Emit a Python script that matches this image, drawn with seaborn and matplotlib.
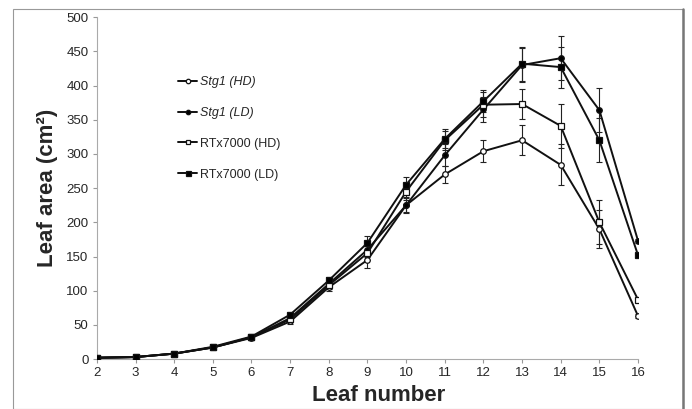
import numpy as np
import pandas as pd
import seaborn as sns
import matplotlib.pyplot as plt
from matplotlib.patches import Rectangle
from matplotlib.lines import Line2D

leaf = [2, 3, 4, 5, 6, 7, 8, 9, 10, 11, 12, 13, 14, 15, 16]

stg1_hd = [2, 3, 8, 17, 31, 55, 105, 145, 225, 270, 304, 320, 284, 190, 63]
stg1_hd_err = [1, 1, 1, 2, 3, 4, 6, 12, 12, 12, 16, 22, 30, 28, 3]
stg1_ld = [2, 3, 8, 17, 32, 60, 110, 160, 225, 298, 365, 430, 440, 364, 173]
stg1_ld_err = [1, 1, 1, 2, 3, 4, 6, 10, 10, 16, 18, 25, 32, 32, 3]
rtx_hd = [2, 3, 8, 17, 32, 58, 108, 155, 245, 320, 372, 373, 341, 200, 87]
rtx_hd_err = [1, 1, 1, 2, 3, 4, 6, 10, 12, 14, 18, 22, 32, 32, 3]
rtx_ld = [2, 3, 8, 18, 33, 65, 115, 170, 255, 322, 377, 432, 427, 320, 152]
rtx_ld_err = [1, 1, 1, 2, 3, 4, 5, 10, 12, 14, 16, 25, 30, 32, 3]

labels = ['Stg1 (HD)', 'Stg1 (LD)', 'RTx7000 (HD)', 'RTx7000 (LD)']

sns.set_style('white')
plt.rcParams['font.family'] = ['Liberation Sans', 'DejaVu Sans']

fig = plt.figure(figsize=(6.92, 4.09), dpi=100)
ax = fig.add_axes([0.140, 0.122, 0.782, 0.836])

series = [
    (stg1_hd, stg1_hd_err, 'o', 'white', 4),
    (stg1_ld, stg1_ld_err, 'o', 'black', 4),
    (rtx_hd, rtx_hd_err, 's', 'white', 4),
    (rtx_ld, rtx_ld_err, 's', 'black', 4.5),
]

for (vals, err, m, fc, ms), lab in zip(series, labels):
    ax.errorbar(leaf, vals, yerr=err, fmt='none', ecolor='#222222',
                elinewidth=0.8, capsize=2, capthick=0.8, zorder=2)
    sns.lineplot(x=leaf, y=vals, ax=ax, color='#111111', lw=1.4,
                 marker=m, markersize=ms, markerfacecolor=fc,
                 markeredgecolor='#111111', markeredgewidth=0.9,
                 label=lab, zorder=3)

ax.set_xlim(2, 16)
ax.set_ylim(0, 500)
ax.set_xticks(leaf)
ax.set_yticks(np.arange(0, 501, 50))
ax.tick_params(axis='both', labelsize=9.5, length=3, color='#999999',
               direction='out', pad=3)
ax.tick_params(axis='y', left=True)
ax.tick_params(axis='x', bottom=True)
for s in ['top', 'right']:
    ax.spines[s].set_visible(False)
for s in ['left', 'bottom']:
    ax.spines[s].set_color('#aaaaaa')
    ax.spines[s].set_linewidth(0.8)

ax.set_xlabel('Leaf number', fontsize=16, fontweight='bold')
ax.xaxis.set_label_coords(0.52, -0.075)
ax.set_ylabel('Leaf area (cm²)', fontsize=16, fontweight='bold', labelpad=6)

leg = ax.legend(loc='upper left', bbox_to_anchor=(0.13, 0.86), frameon=False,
                fontsize=9, labelspacing=1.5, handlelength=1.5,
                handletextpad=0.2, markerscale=0.8)
for t in leg.get_texts()[:2]:
    t.set_fontstyle('italic')

# outer frame of the image
fig.patches.append(Rectangle((13 / 692, 0), 670 / 692, 1 - 9 / 409,
                             transform=fig.transFigure, fill=False,
                             edgecolor='#999999', lw=0.8))
fig.lines.append(Line2D([683 / 692, 683 / 692], [0, 1 - 9 / 409],
                        transform=fig.transFigure, color='#777777', lw=1.8))

fig.savefig('out.png', dpi=100)
